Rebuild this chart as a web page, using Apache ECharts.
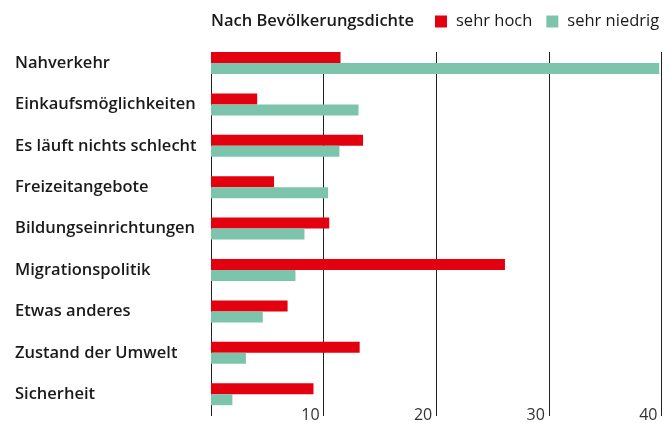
<!DOCTYPE html>
<html><head><meta charset="utf-8">
<script src="https://cdn.jsdelivr.net/npm/echarts@6/dist/echarts.min.js"></script>
<style>html,body{margin:0;padding:0;background:#fff}#c{width:671px;height:423px}</style>
</head><body><div id="c"></div>
<script>
const categories = ["Nahverkehr","Einkaufsmöglichkeiten","Es läuft nichts schlecht","Freizeitangebote","Bildungseinrichtungen","Migrationspolitik","Etwas anderes","Zustand der Umwelt","Sicherheit"];
const sehrHoch = [11.5, 4.1, 13.5, 5.6, 10.5, 26.1, 6.8, 13.2, 9.1];
const sehrNiedrig = [39.8, 13.1, 11.4, 10.4, 8.3, 7.5, 4.6, 3.1, 1.9];
const xTicks = [0, 10, 20, 30, 40];

const chart = echarts.init(document.getElementById('c'), null, {renderer:'canvas'});
const font = '"Open Sans", sans-serif';
chart.setOption({
  animation: false,
  title: {text: 'Nach Bevölkerungsdichte', left: 206, top: 8,
    textStyle: {fontFamily: font, fontSize: 16.5, fontWeight: 600, color: '#1a1a1a'}},
  legend: {left: 435, top: 13, padding: 0, itemWidth: 12, itemHeight: 12, itemGap: 14, icon: 'rect',
    data: ['sehr hoch', 'sehr niedrig'],
    textStyle: {fontFamily: font, fontSize: 16.5, color: '#1a1a1a', padding: [0,0,0,4]}},
  grid: [
    {left: 211, right: 9.5, top: 42.3, bottom: 8.1, containLabel: false},
    {left: 211, right: 9.5, top: 52, bottom: 13, containLabel: false}
  ],
  xAxis: [
    {gridIndex: 0, type: 'value', min: 0, max: 40, interval: 10, show: false},
    {gridIndex: 1, type: 'value', min: xTicks[0], max: xTicks[xTicks.length-1], interval: 10, position: 'bottom',
      axisLine: {show: false},
      axisTick: {show: true, length: 14, lineStyle: {color: '#222', width: 1}},
      splitLine: {show: true, lineStyle: {color: '#222', width: 1}},
      axisLabel: {margin: 5, align: 'right', padding: [0,4,0,0], fontFamily: font, fontSize: 16, color: '#333',
        formatter: v => v === 0 ? '' : String(v)}}
  ],
  yAxis: [
    {gridIndex: 0, type: 'category', data: categories, inverse: true,
      axisLine: {show: false}, axisTick: {show: false}, splitLine: {show: false},
      axisLabel: {align: 'left', margin: 196, padding: [6,0,0,0], fontFamily: font, fontSize: 16.5, fontWeight: 600, color: '#1a1a1a'}},
    {gridIndex: 1, type: 'value', show: false, min: 0, max: 1}
  ],
  series: [
    {name: 'sehr hoch', type: 'bar', xAxisIndex: 0, yAxisIndex: 0, data: sehrHoch, barWidth: 11, barGap: '0%',
      itemStyle: {color: '#e3000f'}, z: 3},
    {name: 'sehr niedrig', type: 'bar', xAxisIndex: 0, yAxisIndex: 0, data: sehrNiedrig, barWidth: 11, barGap: '0%',
      itemStyle: {color: '#7cc5ac'}, z: 3}
  ]
});
</script></body></html>
